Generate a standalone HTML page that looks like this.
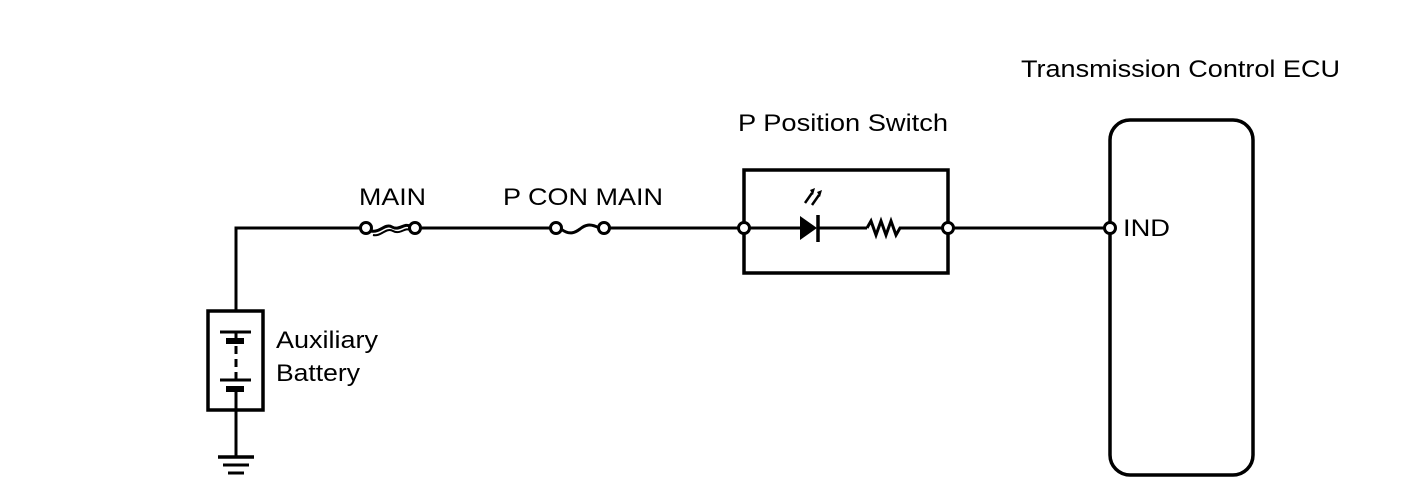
<!DOCTYPE html>
<html><head><style>
html,body{margin:0;padding:0;background:#fff;}
svg{display:block;}
text{font-family:"Liberation Sans",Arial,sans-serif;font-size:24px;fill:#000;}
</style></head><body>
<svg width="1408" height="500" viewBox="0 0 1408 500" xmlns="http://www.w3.org/2000/svg">
<g stroke="#000" stroke-width="3" fill="none">
<polyline points="236,311 236,228 361,228"/>
<line x1="420" y1="228" x2="551" y2="228"/>
<line x1="609" y1="228" x2="739" y2="228"/>
<line x1="749" y1="228" x2="800" y2="228"/>
<line x1="818" y1="228" x2="867" y2="228"/>
<line x1="903" y1="228" x2="943" y2="228"/>
<line x1="953" y1="228" x2="1105" y2="228"/>
<circle cx="366" cy="228" r="5.5" fill="#fff"/>
<circle cx="415" cy="228" r="5.5" fill="#fff"/>
<path d="M371,231 C380,233 385,223 392,227 C399,231 404,223 410,226" stroke-width="3"/>
<path d="M373,235 C381,237 386,227 393,231 C400,235 405,227 410,230" stroke-width="2"/>
<circle cx="556" cy="228" r="5.5" fill="#fff"/>
<circle cx="604" cy="228" r="5.5" fill="#fff"/>
<path d="M561,229 C570,236 576,232 580,229 C585,225 590,223 599,228"/>
<rect x="744" y="170" width="204" height="103" stroke-width="3.5"/>
<circle cx="744" cy="228" r="5.5" fill="#fff"/>
<circle cx="948" cy="228" r="5.5" fill="#fff"/>
<line x1="818" y1="215" x2="818" y2="242" stroke-width="3.5"/>
<path d="M805,203 L812,193" stroke-width="2.5"/>
<path d="M812,205 L819,195" stroke-width="2.5"/>
<path d="M867,228 L871,221 L876,235 L881,221 L886,235 L891,221 L896,235 L900,228 L903,228"/>
<rect x="1110" y="120" width="143" height="355" rx="20" stroke-width="3.5"/>
<circle cx="1110" cy="228" r="5.5" fill="#fff"/>
<rect x="208" y="311" width="55" height="99" stroke-width="3.5"/>
<line x1="220" y1="332" x2="251" y2="332"/>
<line x1="236" y1="332" x2="236" y2="340"/>
<line x1="236" y1="346" x2="236" y2="380" stroke-dasharray="8,5"/>
<line x1="220" y1="380" x2="251" y2="380"/>
<line x1="236" y1="388" x2="236" y2="457"/>
<line x1="218" y1="457" x2="254" y2="457" stroke-width="3.5"/>
<line x1="223" y1="465" x2="249" y2="465"/>
<line x1="228" y1="473" x2="244" y2="473"/>
</g>
<polygon points="800,216 800,240 817,228" fill="#000"/>
<polygon points="810,190 815,188 813,195" fill="#000"/>
<polygon points="817,192 822,190 820,197" fill="#000"/>
<rect x="226" y="338" width="18" height="6" fill="#000"/>
<rect x="226" y="386" width="18" height="6" fill="#000"/>
<text x="1021" y="77" textLength="319" lengthAdjust="spacingAndGlyphs">Transmission Control ECU</text>
<text x="738" y="131" textLength="210" lengthAdjust="spacingAndGlyphs">P Position Switch</text>
<text x="359" y="205" textLength="67" lengthAdjust="spacingAndGlyphs">MAIN</text>
<text x="503" y="205" textLength="160" lengthAdjust="spacingAndGlyphs">P CON MAIN</text>
<text x="1123" y="236" textLength="47" lengthAdjust="spacingAndGlyphs">IND</text>
<text x="276" y="348" textLength="102" lengthAdjust="spacingAndGlyphs">Auxiliary</text>
<text x="276" y="381" textLength="84" lengthAdjust="spacingAndGlyphs">Battery</text>
</svg>
</body></html>
